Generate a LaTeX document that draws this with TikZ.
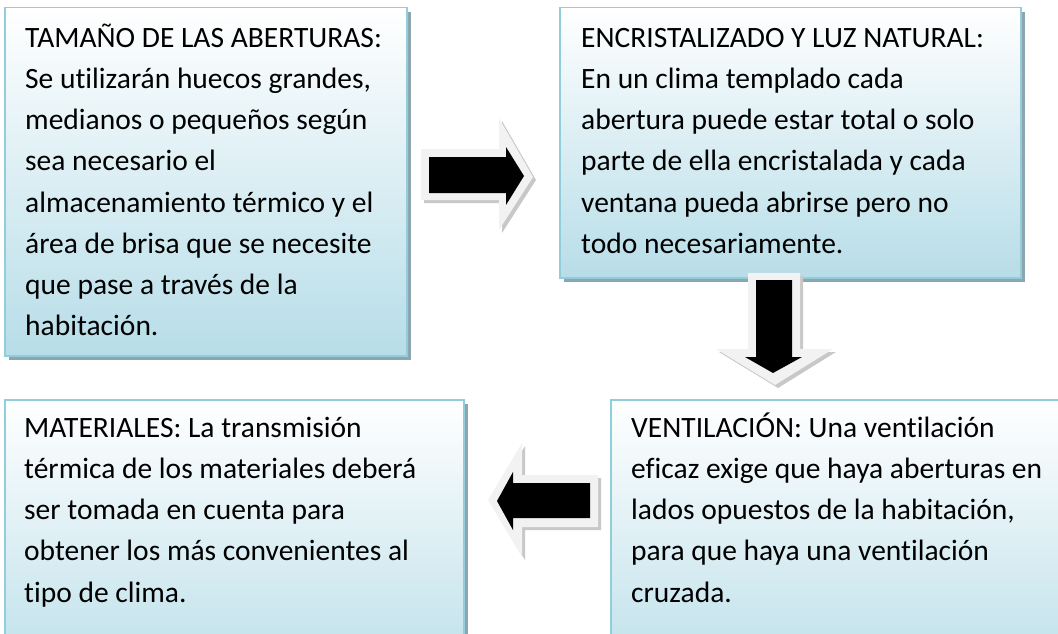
\documentclass[tikz,border=0pt]{standalone}
\usepackage{fontspec}
\setmainfont{Carlito}[Ligatures={NoCommon}]
\usetikzlibrary{shadows}
\definecolor{boxblue}{RGB}{183,221,232}
\definecolor{boxline}{RGB}{146,205,220}
\definecolor{shadowc}{RGB}{140,165,175}
\definecolor{arrlight}{RGB}{242,242,242}
\definecolor{arrshadow}{RGB}{200,200,200}
\newcommand\fstrut{\rule{0pt}{30pt}}
\tikzset{
  box/.style={rectangle, draw=boxline, line width=1.5pt, top color=white,
    bottom color=boxblue, anchor=north west, inner sep=0pt,
    drop shadow={shadow xshift=4pt, shadow yshift=-4pt, fill=shadowc, opacity=1}},
  txt/.style={anchor=north west, inner sep=0pt, align=left,
    font=\fontsize{29.5}{41.2}\selectfont},
  arrout/.style={fill=arrlight},
  arrshd/.style={fill=arrshadow},
  arrin/.style={fill=black}
}
\begin{document}
\begin{tikzpicture}[x=1pt,y=-1pt]
\useasboundingbox (0,0) rectangle (1058,634);
% boxes
\node[box, minimum width=402pt, minimum height=348pt] (b1) at (4,7) {};
\node[box, minimum width=461pt, minimum height=270pt] (b2) at (559,7) {};
\node[box, minimum width=460pt, minimum height=300pt] (b3) at (610,399) {};
\node[box, minimum width=459pt, minimum height=300pt] (b4) at (4,399) {};
% texts
\node[txt] (t1) at (25,17) {\fstrut TAMAÑO DE LAS ABERTURAS:\\
Se utilizarán huecos grandes,\\
medianos o pequeños según\\
sea necesario el\\
almacenamiento térmico y el\\
área de brisa que se necesite\\
que pase a través de la\\
habitación.};
\node[txt] (t2) at (581,17) {\fstrut ENCRISTALIZADO Y LUZ NATURAL:\\
En un clima templado cada\\
abertura puede estar total o solo\\
parte de ella encristalada y cada\\
ventana pueda abrirse pero no\\
todo necesariamente.};
\node[txt] (t3) at (631,407) {\fstrut VENTILACIÓN: Una ventilación\\
eficaz exige que haya aberturas en\\
lados opuestos de la habitación,\\
para que haya una ventilación\\
cruzada.};
\node[txt] (t4) at (24,407) {\fstrut MATERIALES: La transmisión\\
térmica de los materiales deberá\\
ser tomada en cuenta para\\
obtener los más convenientes al\\
tipo de clima.};
% right arrow
\fill[arrshd] (424,152) -- (502,152) -- (502,121) -- (536,180) -- (502,233) -- (502,203) -- (424,203) -- cycle;
\fill[arrout] (421,149) -- (499,149) -- (499,118) -- (533,177) -- (499,230) -- (499,200) -- (421,200) -- cycle;
\fill[arrin] (429,157) -- (506,157) -- (506,147) -- (524,176) -- (506,205) -- (506,193) -- (429,193) -- cycle;
% down arrow
\fill[arrshd] (751,276) -- (803,276) -- (803,352) -- (836,352) -- (778,388) -- (719,352) -- (751,352) -- cycle;
\fill[arrout] (748,273) -- (800,273) -- (800,349) -- (833,349) -- (775,385) -- (716,349) -- (748,349) -- cycle;
\fill[arrin] (756,280) -- (792,280) -- (792,357) -- (802,357) -- (773,373) -- (745,357) -- (756,357) -- cycle;
% left arrow
\fill[arrshd] (491,503) -- (525,446) -- (525,478) -- (601,478) -- (601,530) -- (525,530) -- (525,560) -- cycle;
\fill[arrout] (488,500) -- (522,443) -- (522,475) -- (598,475) -- (598,527) -- (522,527) -- (522,557) -- cycle;
\fill[arrin] (497,501) -- (513,472) -- (513,483) -- (590,483) -- (590,518) -- (513,518) -- (513,530) -- cycle;
\end{tikzpicture}
\end{document}
